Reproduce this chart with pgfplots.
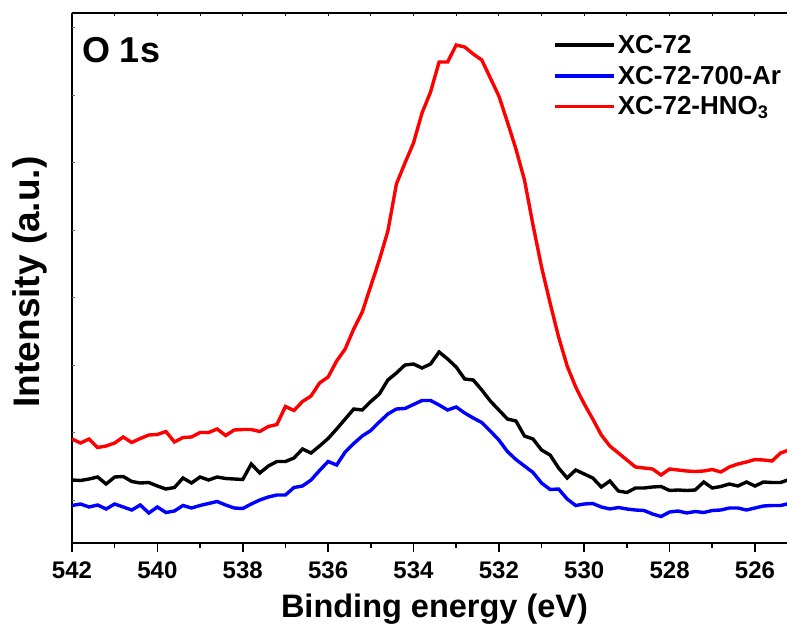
\documentclass[border=0pt]{standalone}
\usepackage{fontspec}
\setmainfont{Liberation Sans}
\usepackage{pgfplots}
\pgfplotsset{compat=1.18}
\pgfplotstableread{
E I
542.0 104
541.8 100
541.6 104
541.4 95.5
541.2 97
541.0 100
540.8 106
540.6 100.5
540.4 104.5
540.2 108
540.0 108.5
539.8 111.5
539.6 101
539.4 105.5
539.2 106
539.0 110.5
538.8 110.5
538.6 114
538.4 107.5
538.2 113
538.0 113.5
537.8 113.5
537.6 111.5
537.4 116.5
537.2 118.5
537.0 136.5
536.8 132.5
536.6 141.5
536.4 147
536.2 160
536.0 166
535.8 182
535.6 194
535.4 214
535.2 231
535.0 257
534.8 283
534.6 312
534.4 359
534.2 380
534.0 400
533.8 430
533.6 451
533.4 481
533.2 481
533.0 498
532.8 496
532.6 489
532.4 483
532.2 465
532.0 447
531.8 421
531.6 394
531.4 363
531.2 318
531.0 276
530.8 240
530.6 206
530.4 177
530.2 156
530.0 139
529.8 124
529.6 108
529.4 97
529.2 90
529.0 83
528.8 76
528.6 75
528.4 74
528.2 68
528.0 74
527.8 73
527.6 72
527.4 71.5
527.2 72
527.0 73.5
526.8 71
526.6 76
526.4 79
526.2 81
526.0 83.5
525.8 83
525.6 82
525.4 90
525.2 93
}\hno
\pgfplotstableread{
E I
542.0 63
541.8 62.5
541.6 64
541.4 66
541.2 59
541.0 66
540.8 66.5
540.6 61.5
540.4 60
540.2 60.5
540.0 57
539.8 54
539.6 55.5
539.4 65
539.2 60
539.0 66
538.8 63
538.6 66
538.4 64.5
538.2 64
538.0 63.5
537.8 79
537.6 70
537.4 77
537.2 81.5
537.0 81.5
536.8 85
536.6 94
536.4 90
536.2 97
536.0 104.5
535.8 114
535.6 124
535.4 134
535.2 133
535.0 141.5
534.8 149
534.6 163
534.4 170
534.2 178
534.0 179
533.8 175
533.6 179
533.4 191
533.2 184
533.0 176
532.8 164
532.6 163
532.4 153
532.2 142
532.0 133
531.8 124
531.6 122
531.4 107
531.2 104
531.0 93
530.8 88
530.6 75
530.4 65
530.2 73
530.0 69
529.8 65
529.6 56
529.4 62
529.2 52
529.0 50.5
528.8 55
528.6 55
528.4 56
528.2 56.5
528.0 52.5
527.8 53
527.6 52.5
527.4 53
527.2 61
527.0 55
526.8 56.5
526.6 59
526.4 57
526.2 61
526.0 57
525.8 61
525.6 60.5
525.4 60.5
525.2 63.5
}\xc
\pgfplotstableread{
E I
542.0 37.5
541.8 39
541.6 36
541.4 38
541.2 34
541.0 39
540.8 36
540.6 33
540.4 38
540.2 30
540.0 36
539.8 30.5
539.6 32
539.4 37.5
539.2 35
539.0 37.5
538.8 39.5
538.6 41.5
538.4 38
538.2 35
538.0 34.5
537.8 39
537.6 43
537.4 46
537.2 48
537.0 48
536.8 55.5
536.6 57
536.4 63
536.2 72.5
536.0 81.5
535.8 78
535.6 91
535.4 99.5
535.2 107
535.0 112.5
534.8 121
534.6 129
534.4 134
534.2 134.5
534.0 138.5
533.8 142.5
533.6 142.5
533.4 138
533.2 133
533.0 136
532.8 130
532.6 125
532.4 120.5
532.2 112
532.0 103
531.8 91.5
531.6 83.5
531.4 77
531.2 70.5
531.0 60
530.8 53.5
530.6 54
530.4 44
530.2 37.5
530.0 39
529.8 39.5
529.6 36
529.4 34
529.2 35.5
529.0 34
528.8 33
528.6 32.5
528.4 29
528.2 26.5
528.0 31
527.8 32
527.6 30
527.4 31.5
527.2 30.5
527.0 32.5
526.8 33
526.6 35
526.4 35
526.2 33
526.0 35
525.8 37
525.6 37.5
525.4 37.5
525.2 39.5
}\ar
\begin{document}
\begin{tikzpicture}
\useasboundingbox (-72pt,-84pt) rectangle (715pt,543pt);
\begin{axis}[
  at={(0pt,0pt)}, anchor=south west,
  scale only axis, width=715pt, height=530pt,
  x dir=reverse, xmin=525.25, xmax=542, ymin=0, ymax=530,
  axis x line*=box, axis y line*=left,
  axis line style={line width=1.6pt},
  xtick={526,528,...,542}, minor x tick num=1,
  xtick pos=bottom, xtick align=outside,
  major tick length=9pt, minor tick length=5pt,
  every tick/.style={black, line width=1.6pt},
  ytick=\empty,
  /pgf/number format/assume math mode=true,
  /pgf/number format/1000 sep={},
  xticklabel style={font=\fontsize{24}{24}\selectfont\bfseries, inner sep=0pt, yshift=-10pt},
  xlabel={Binding energy (eV)},
  ylabel={Intensity (a.u.)},
  xlabel style={font=\fontsize{32.5}{32.5}\selectfont\bfseries, at={(axis description cs:0.507,-0.124)}, anchor=center},
  ylabel style={font=\fontsize{37}{37}\selectfont\bfseries, at={(axis description cs:-0.0587,0.4925)}, anchor=center},
  legend style={at={(axis description cs:0.673,0.962)}, anchor=north west, draw=none, fill=none,
    font=\fontsize{26}{26}\selectfont\bfseries, inner sep=0pt, row sep=7pt,
    /tikz/every even column/.append style={column sep=8pt}},
  legend cell align=left,
  legend image code/.code={\draw[#1] (0pt,0pt) -- (59pt,0pt);},
]
\addplot[black, line width=3.4pt] table[x=E,y=I] {\xc};
\addlegendentry{XC-72}
\addplot[blue, line width=3.4pt] table[x=E,y=I] {\ar};
\addlegendentry{XC-72-700-Ar}
\addplot[red, line width=3.4pt] table[x=E,y=I] {\hno};
\addlegendentry{XC-72-HNO\textsubscript{3}}
\pgfplotsinvokeforeach{526,527,...,541}{\draw[line width=1pt] (axis cs:#1,530) -- ++(0pt,-3.5pt);}
\pgfplotsinvokeforeach{43,110.5,178,245.5,313,380.5,448,515.5}{\draw[line width=0.8pt, black!60] (axis cs:542,#1) -- ++(3pt,0pt);}
\node[anchor=north west, inner sep=0pt, font=\fontsize{36}{36}\selectfont\bfseries] at (axis cs:541.77,506) {O 1s};
\end{axis}
\end{tikzpicture}
\end{document}
